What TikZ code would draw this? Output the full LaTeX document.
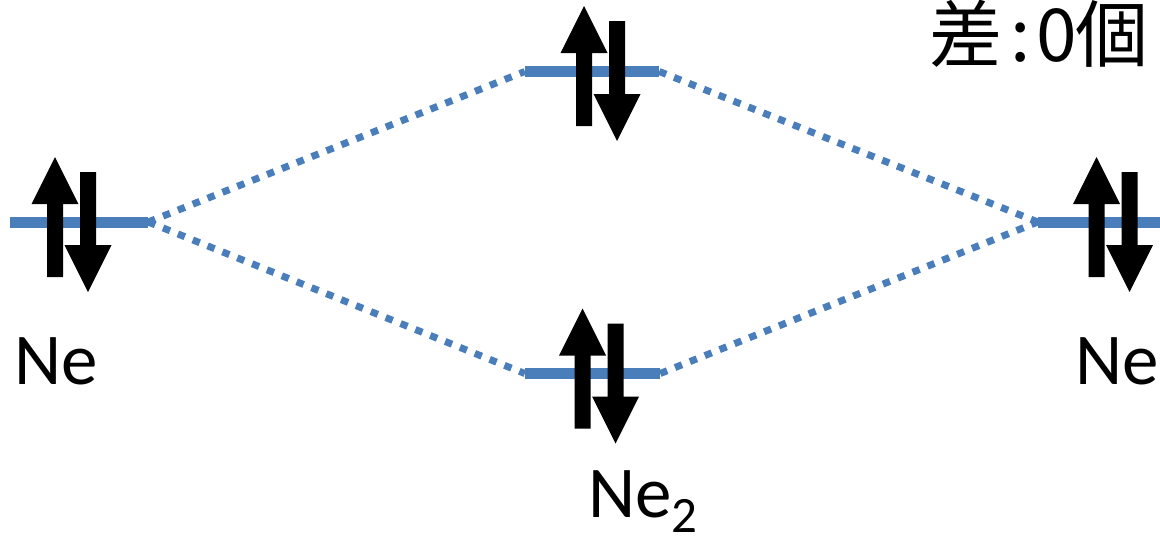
\documentclass[tikz,border=0pt]{standalone}
\usepackage{fontspec}
\setmainfont{Carlito}
\newfontfamily\cjk{Noto Sans CJK JP}
\definecolor{cLevel}{HTML}{4A7EBB}
\tikzset{
  lvl/.style={fill=cLevel,inner sep=0pt,minimum height=11pt,minimum width=#1},
  lvl/.default=134pt,
  orb/.style={draw=cLevel,line width=7pt,dash pattern=on 7.5pt off 8.5pt},
  lbl/.style={font=\fontsize{73}{73}\selectfont,inner sep=0pt,anchor=base west},
  % electron pair: up arrow left, down arrow right
  pair/.pic={
    \fill (-24.5,52.5) -- (-24.5,-20.5) -- (-40,-20.5) -- (-16.5,-67.5) -- (7,-20.5) -- (-8.5,-20.5) -- (-8.5,52.5) -- cycle;
    \fill (8.5,-52.5) -- (8.5,20.5) -- (-7,20.5) -- (16.5,67.5) -- (40,20.5) -- (24.5,20.5) -- (24.5,-52.5) -- cycle;
  },
}

\begin{document}
\begin{tikzpicture}[x=1pt,y=-1pt]
    \useasboundingbox (0,0) rectangle (1160,539);
    \node[lvl=138pt] (aoL) at (79,222) {};
    \node[lvl=122pt] (aoR) at (1099,222) {};
    \node[lvl]       (moUp) at (592,71.5) {};
    \node[lvl=135pt] (moDn) at (592.5,373.5) {};
    \draw[orb] (aoL.east) -- (moUp.west);
    \draw[orb] (aoL.east) -- (moDn.west);
    \draw[orb] (moUp.east) -- (aoR.west);
    \draw[orb] (moDn.east) -- (aoR.west);
    \pic at (71.5,224.5) {pair};
    \pic at (600.5,73.5) {pair};
    \pic at (599,376) {pair};
    \pic at (1113,224.5) {pair};
    \node[lbl] (neL) at (14,384) {Ne};
    \node[lbl] (neR) at (1075,384) {Ne};
    \node[lbl] (neTwo) at (588,517) {Ne\raisebox{-15pt}{\fontsize{51}{51}\selectfont 2}};
    \node[lbl,font=\cjk\fontsize{73}{73}\selectfont] (diff) at (929,61) {差\makebox[0.5em]{:}\makebox[0.5em]{0}個};
  \end{tikzpicture}
\end{document}
